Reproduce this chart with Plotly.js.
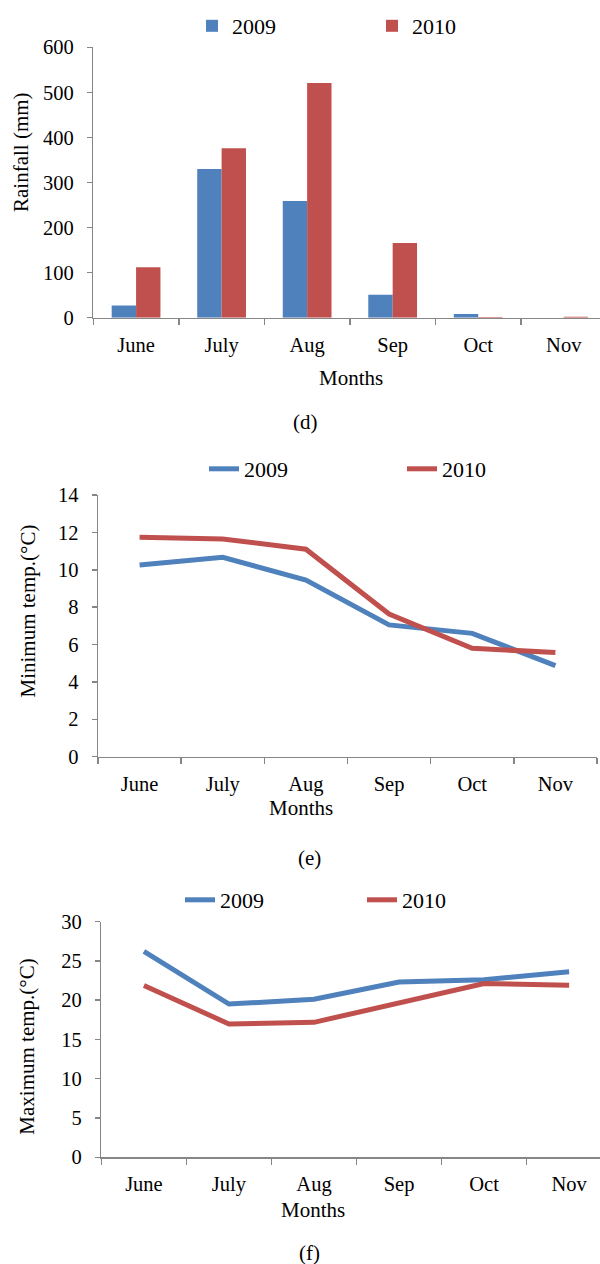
<!DOCTYPE html>
<html><head><meta charset="utf-8">
<script src="https://cdn.plot.ly/plotly-3.0.1.min.js"></script>
<style>html,body{margin:0;padding:0;background:#fff;overflow:hidden}</style>
</head><body><div id="chart" style="width:600px;height:1264px"></div>
<script>
const months = ["June", "July", "Aug", "Sep", "Oct", "Nov"];
const years = ["2009", "2010"];
const rain2009 = [27, 330, 259, 51, 8, 0];
const rain2010 = [112, 376, 521, 166, 1.5, 2];
const minT2009 = [10.26, 10.67, 9.45, 7.05, 6.6, 4.87];
const minT2010 = [11.74, 11.65, 11.1, 7.63, 5.8, 5.57];
const maxT2009 = [26.2, 19.5, 20.1, 22.3, 22.6, 23.6];
const maxT2010 = [21.85, 16.96, 17.17, 19.7, 22.1, 21.9];
const labels = {
  rainY: "Rainfall (mm)", minY: "Minimum temp.(°C)", maxY: "Maximum temp.(°C)",
  x: "Months", d: "(d)", e: "(e)", f: "(f)"
};

const W = 600, H = 1264;
const BLUE = "#4F81BD", RED = "#C0504D", AX = "#868686";
const FONT = "Liberation Serif";
const fx = p => p / W;
const fy = p => 1 - p / H;

const traces = [
  {type: "bar", x: months, y: rain2009, name: years[0], marker: {color: BLUE}, xaxis: "x", yaxis: "y", legend: "legend"},
  {type: "bar", x: months, y: rain2010, name: years[1], marker: {color: RED}, xaxis: "x", yaxis: "y", legend: "legend2"},
  {type: "scatter", mode: "lines", x: months, y: minT2009, name: years[0], line: {color: BLUE, width: 5}, xaxis: "x2", yaxis: "y2", legend: "legend3"},
  {type: "scatter", mode: "lines", x: months, y: minT2010, name: years[1], line: {color: RED, width: 5}, xaxis: "x2", yaxis: "y2", legend: "legend4"},
  {type: "scatter", mode: "lines", x: months, y: maxT2009, name: years[0], line: {color: BLUE, width: 5}, xaxis: "x3", yaxis: "y3", legend: "legend5"},
  {type: "scatter", mode: "lines", x: months, y: maxT2010, name: years[1], line: {color: RED, width: 5}, xaxis: "x3", yaxis: "y3", legend: "legend6"}
];

function xax(d0, d1, rmax, anchor) {
  return {
    domain: [fx(d0), fx(d1)], anchor: anchor, type: "category", range: [-0.5, rmax],
    tickson: "boundaries", ticks: "outside", ticklen: 6, tickwidth: 1.5, tickcolor: AX,
    showline: true, linecolor: AX, linewidth: 1.5, showgrid: false, zeroline: false,
    tickfont: {family: FONT, size: 20.5, color: "#000"}, ticklabelstandoff: 8, fixedrange: true
  };
}
function yax(top, bottom, rmax, dt, anchor) {
  return {
    domain: [fy(bottom), fy(top)], anchor: anchor, range: [0, rmax], dtick: dt,
    ticks: "outside", ticklen: 5, tickwidth: 1.5, tickcolor: AX,
    showline: true, linecolor: AX, linewidth: 1.5, showgrid: false, zeroline: false,
    tickfont: {family: FONT, size: 20.5, color: "#000"}, ticklabelstandoff: 9, fixedrange: true
  };
}
function leg(xpx, ypx) {
  return {x: fx(xpx), y: fy(ypx), xanchor: "left", yanchor: "middle", orientation: "h",
    bgcolor: "rgba(0,0,0,0)", borderwidth: 0, font: {family: FONT, size: 22, color: "#000"}};
}
function ann(text, xpx, ypx, angle) {
  return {text: text, x: fx(xpx), y: fy(ypx), xref: "paper", yref: "paper",
    xanchor: "center", yanchor: "middle", showarrow: false, textangle: angle || 0,
    font: {family: FONT, size: 21, color: "#000"}};
}

const layout = {
  width: W, height: H, autosize: false,
  margin: {l: 0, r: 0, t: 0, b: 0, pad: 0},
  paper_bgcolor: "#fff", plot_bgcolor: "rgba(0,0,0,0)",
  font: {family: FONT, color: "#000"},
  barmode: "group", bargap: 0.43, bargroupgap: 0,
  showlegend: true,
  xaxis: xax(93.3, 600, 5.424, "y"),
  yaxis: yax(47.3, 317.7, 600, 100, "x"),
  xaxis2: xax(98, 597, 5.5, "y2"),
  yaxis2: yax(495, 756.7, 14, 2, "x2"),
  xaxis3: xax(101.4, 600, 5.363, "y3"),
  yaxis3: yax(921.5, 1157.3, 30, 5, "x3"),
  legend: leg(192, 26), legend2: leg(372, 26),
  legend3: leg(204, 469), legend4: leg(402, 469),
  legend5: leg(180, 900), legend6: leg(362, 900),
  annotations: [
    ann(labels.rainY, 21, 152, -90), ann(labels.x, 351, 378), ann(labels.d, 305, 422),
    ann(labels.minY, 27, 611.5, -90), ann(labels.x, 300.5, 808), ann(labels.e, 309, 858),
    ann(labels.maxY, 27, 1046.7, -90), ann(labels.x, 312.5, 1210), ann(labels.f, 309, 1253)
  ]
};

Plotly.newPlot("chart", traces, layout, {displayModeBar: false, staticPlot: true});
</script></body></html>
